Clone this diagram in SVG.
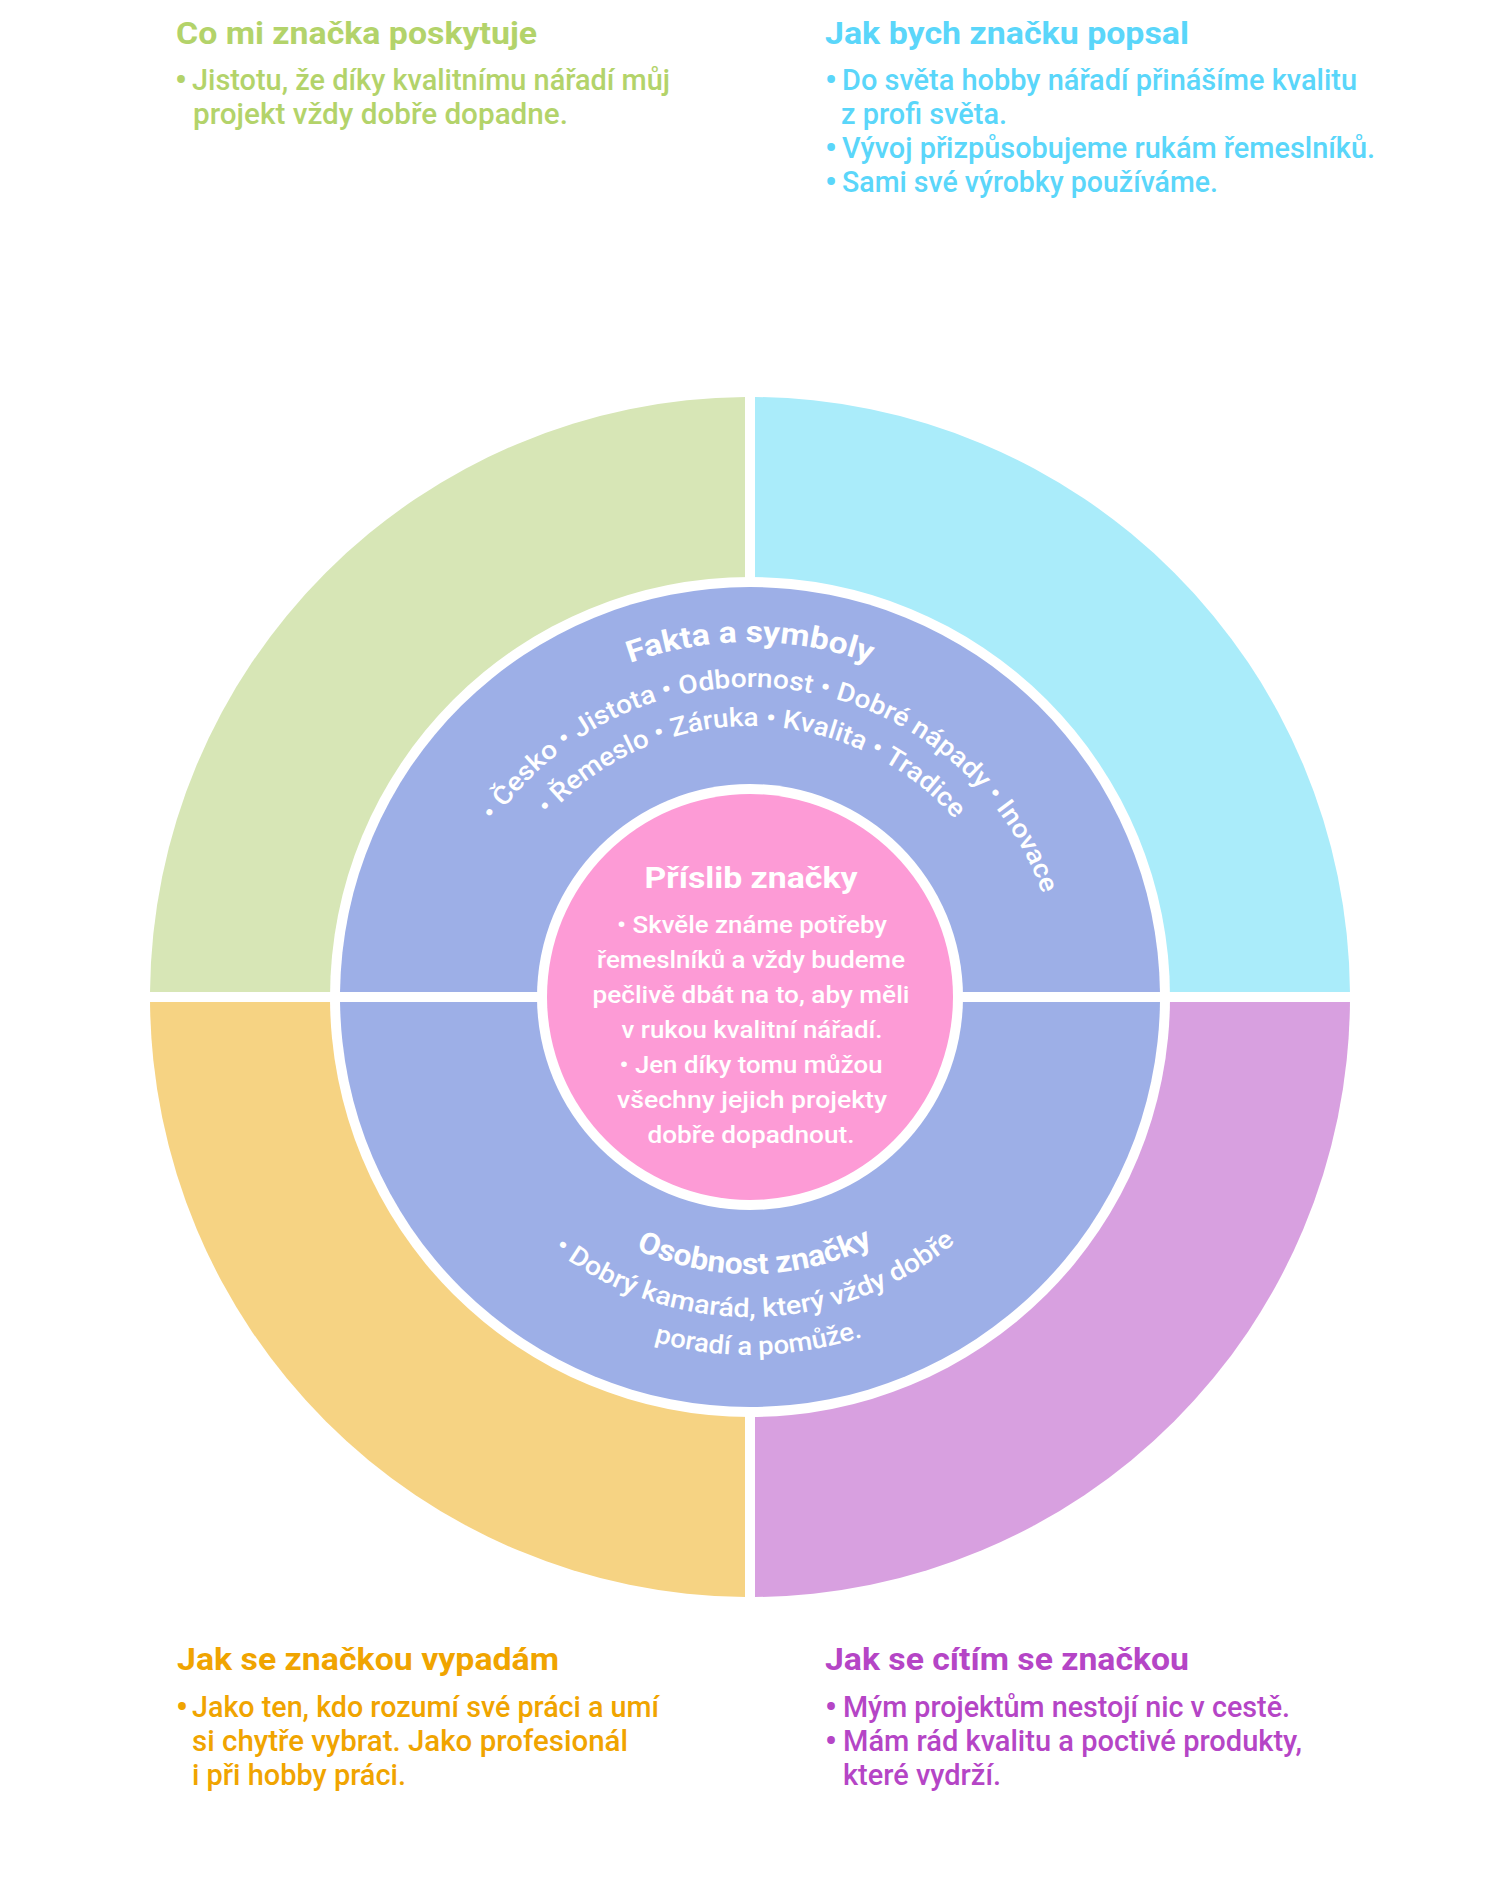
<svg xmlns="http://www.w3.org/2000/svg" width="1500" height="1900" viewBox="0 0 1500 1900">
<style>
text{font-family:Roboto,"Noto Sans",sans-serif}
.h{font-size:31px;font-weight:700}
.b{font-size:29px;font-weight:500}
.bl{font-size:33px;font-weight:700}
.g{fill:#B3D36A}.c{fill:#5AD6FA}.o{fill:#F0A400}.p{fill:#B545C6}
.w{fill:#FFFFFF}
.ch{font-size:30px;font-weight:700}
.cb{font-size:26px;font-weight:500}
.pb{font-size:24px;font-weight:500}
.ph{font-size:29px;font-weight:700}
</style>
<defs>
<path id="aT355" d="M395,997 A355,355 0 0 1 1105,997"/>
<path id="aT310" d="M440,997 A310,310 0 0 1 1060,997"/>
<path id="aT271" d="M479,997 A271,271 0 0 1 1021,997"/>
<path id="aB277" d="M473,997 A277,277 0 0 0 1027,997"/>
<path id="aB320" d="M430,997 A320,320 0 0 0 1070,997"/>
<path id="aB358" d="M392,997 A358,358 0 0 0 1108,997"/>
</defs>
<rect width="1500" height="1900" fill="#FFFFFF"/>

<g id="q-provides">
<path d="M745,992 L150.02,992 A600,600 0 0 1 745,397.02 Z" fill="#D7E6B6"/>
<text class="h g" x="176" y="44" textLength="361" lengthAdjust="spacingAndGlyphs">Co mi značka poskytuje</text>
<text class="bl g" x="175" y="91">•</text>
<text class="b g" x="192" y="90" textLength="478" lengthAdjust="spacingAndGlyphs">Jistotu, že díky kvalitnímu nářadí můj</text>
<text class="b g" x="193" y="124" textLength="375" lengthAdjust="spacingAndGlyphs">projekt vždy dobře dopadne.</text>
</g>

<g id="q-describe">
<path d="M755,992 L755,397.02 A600,600 0 0 1 1349.98,992 Z" fill="#AAECFA"/>
<text class="h c" x="825" y="44" textLength="364" lengthAdjust="spacingAndGlyphs">Jak bych značku popsal</text>
<text class="bl c" x="825" y="91">•</text>
<text class="b c" x="842" y="90" textLength="515" lengthAdjust="spacingAndGlyphs">Do světa hobby nářadí přinášíme kvalitu</text>
<text class="b c" x="841" y="124" textLength="166" lengthAdjust="spacingAndGlyphs">z profi světa.</text>
<text class="bl c" x="825" y="159">•</text>
<text class="b c" x="842" y="158" textLength="533" lengthAdjust="spacingAndGlyphs">Vývoj přizpůsobujeme rukám řemeslníků.</text>
<text class="bl c" x="825" y="193">•</text>
<text class="b c" x="842" y="192" textLength="376" lengthAdjust="spacingAndGlyphs">Sami své výrobky používáme.</text>
</g>

<g id="q-look">
<path d="M745,1002 L745,1596.98 A600,600 0 0 1 150.02,1002 Z" fill="#F6D383"/>
<text class="h o" x="177" y="1670" textLength="382" lengthAdjust="spacingAndGlyphs">Jak se značkou vypadám</text>
<text class="bl o" x="176" y="1718">•</text>
<text class="b o" x="192" y="1717" textLength="467" lengthAdjust="spacingAndGlyphs">Jako ten, kdo rozumí své práci a umí</text>
<text class="b o" x="192" y="1751" textLength="436" lengthAdjust="spacingAndGlyphs">si chytře vybrat. Jako profesionál</text>
<text class="b o" x="192" y="1785" textLength="214" lengthAdjust="spacingAndGlyphs">i při hobby práci.</text>
</g>

<g id="q-feel">
<path d="M755,1002 L1349.98,1002 A600,600 0 0 1 755,1596.98 Z" fill="#D8A0E0"/>
<text class="h p" x="825" y="1670" textLength="364" lengthAdjust="spacingAndGlyphs">Jak se cítím se značkou</text>
<text class="bl p" x="825" y="1718">•</text>
<text class="b p" x="843" y="1717" textLength="447" lengthAdjust="spacingAndGlyphs">Mým projektům nestojí nic v cestě.</text>
<text class="bl p" x="825" y="1752">•</text>
<text class="b p" x="843" y="1751" textLength="459" lengthAdjust="spacingAndGlyphs">Mám rád kvalitu a poctivé produkty,</text>
<text class="b p" x="843" y="1785" textLength="158" lengthAdjust="spacingAndGlyphs">které vydrží.</text>
</g>

<circle cx="750" cy="997" r="420" fill="#FFFFFF"/>

<g id="facts">
<path d="M340.03,992 A410,410 0 0 1 1159.97,992 Z" fill="#9DAFE7"/>
<text class="ch w" text-anchor="middle"><textPath href="#aT355" startOffset="50%" textLength="245" lengthAdjust="spacingAndGlyphs">Fakta a symboly</textPath></text>
<text class="cb w" text-anchor="middle"><textPath href="#aT310" startOffset="54.17%" textLength="682" lengthAdjust="spacingAndGlyphs">• Česko • Jistota • Odbornost • Dobré nápady • Inovace</textPath></text>
<text class="cb w" text-anchor="middle"><textPath href="#aT271" startOffset="50.28%" textLength="459" lengthAdjust="spacingAndGlyphs">• Řemeslo • Záruka • Kvalita • Tradice</textPath></text>
</g>

<g id="personality">
<path d="M340.03,1002 A410,410 0 0 0 1159.97,1002 Z" fill="#9DAFE7"/>
<text class="ch w" text-anchor="middle"><textPath href="#aB277" startOffset="50.56%" textLength="245" lengthAdjust="spacingAndGlyphs">Osobnost značky</textPath></text>
<text class="cb w" text-anchor="middle"><textPath href="#aB320" startOffset="50.56%" textLength="435" lengthAdjust="spacingAndGlyphs">• Dobrý kamarád, který vždy dobře</textPath></text>
<text class="cb w" text-anchor="middle"><textPath href="#aB358" startOffset="50.78%" textLength="212" lengthAdjust="spacingAndGlyphs">poradí a pomůže.</textPath></text>
</g>

<circle cx="750" cy="997" r="213" fill="#FFFFFF"/>

<g id="promise">
<circle cx="750" cy="997" r="203" fill="#FD9BD6"/>
<text class="ph w" x="751" y="888" text-anchor="middle" textLength="213" lengthAdjust="spacingAndGlyphs">Příslib značky</text>
<text class="pb w" x="752" y="933" text-anchor="middle" textLength="270" lengthAdjust="spacingAndGlyphs">• Skvěle známe potřeby</text>
<text class="pb w" x="751" y="968" text-anchor="middle" textLength="308" lengthAdjust="spacingAndGlyphs">řemeslníků a vždy budeme</text>
<text class="pb w" x="751" y="1003" text-anchor="middle" textLength="317" lengthAdjust="spacingAndGlyphs">pečlivě dbát na to, aby měli</text>
<text class="pb w" x="752" y="1038" text-anchor="middle" textLength="261" lengthAdjust="spacingAndGlyphs">v rukou kvalitní nářadí.</text>
<text class="pb w" x="751" y="1073" text-anchor="middle" textLength="263" lengthAdjust="spacingAndGlyphs">• Jen díky tomu můžou</text>
<text class="pb w" x="752" y="1108" text-anchor="middle" textLength="270" lengthAdjust="spacingAndGlyphs">všechny jejich projekty</text>
<text class="pb w" x="751" y="1143" text-anchor="middle" textLength="207" lengthAdjust="spacingAndGlyphs">dobře dopadnout.</text>
</g>

<g id="connectors"></g>
</svg>
